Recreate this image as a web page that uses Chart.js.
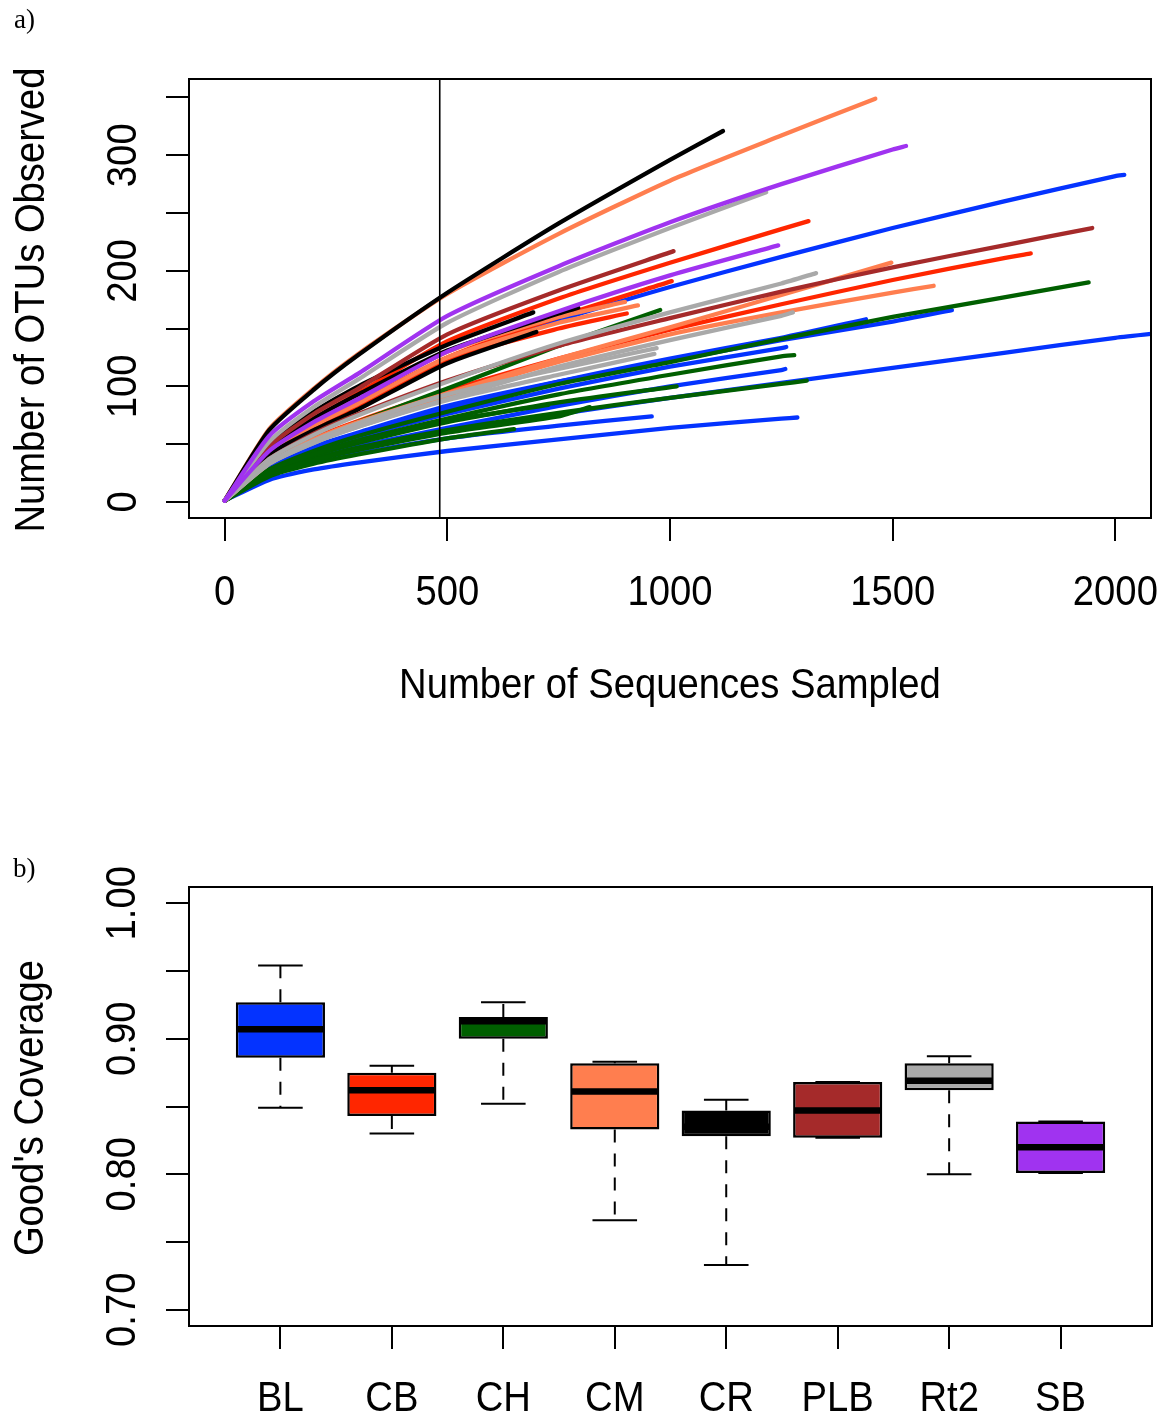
<!DOCTYPE html>
<html>
<head>
    <meta charset="utf-8">
    <title>Rarefaction and Good's coverage</title>
    <script src="https://cdn.jsdelivr.net/npm/chart.js"></script>
    <style>
        body { margin: 0; background: #fff; }
        canvas { position: absolute; left: 0; }
    </style>
</head>
<body>
    <canvas id="rarefactionChart" width="1165" height="760" style="top: 0px"></canvas>
    <canvas id="coverageChart" width="1165" height="658" style="top: 760px"></canvas>
<script>
    const sites = ['BL', 'CB', 'CH', 'CM', 'CR', 'PLB', 'Rt2', 'SB']
    const siteColors = ['#0433ff', '#ff2600', '#005f00', '#ff7e4f', '#000000', '#a52a2a', '#a9a9a9', '#a033f0']

    // a) rarefaction curves: OTUs read at each depth step, last value is at the curve's own depth
    const depthSteps = [0, 100, 200, 300, 500, 750, 1000, 1250, 1500, 1750, 2000]
    const curveSite = [
        'BL', 'BL', 'BL', 'BL', 'BL', 'BL', 'BL', 'BL',
        'CB', 'CB', 'CB', 'CB',
        'CH', 'CH', 'CH', 'CH', 'CH', 'CH', 'CH', 'CH',
        'CM', 'CM', 'CM', 'CM', 'CM',
        'CR', 'CR', 'CR', 'CR',
        'PLB', 'PLB',
        'Rt2', 'Rt2', 'Rt2', 'Rt2', 'Rt2',
        'SB', 'SB'
    ]
    const curveDepth = [
        2020, 1633, 1440, 1261, 1259, 2120, 1286, 959,
        1311, 1004, 903, 1810,
        1940, 1279, 1307, 1015, 978, 727, 650, 820,
        1461, 1497, 1592, 899, 928,
        1119, 693, 700, 794,
        1008, 1948,
        1216, 1328, 1276, 970, 965,
        1530, 1243
    ]
    const curveOtus = [
        [1, 40, 64, 84, 123, 157, 186, 212, 237, 260, 282, 283],
        [1, 31, 48, 60, 83, 104, 122, 140, 156, 166],
        [1, 30, 46, 58, 80, 104, 124, 142, 158],
        [1, 29, 44, 56, 76, 98, 117, 133, 134],
        [1, 25, 38, 48, 64, 83, 100, 114, 115],
        [1, 26, 38, 47, 62, 76, 90, 103, 116, 129, 142, 147],
        [1, 19, 28, 34, 44, 54, 64, 72, 73],
        [1, 23, 34, 42, 55, 66, 74],

        [1, 45, 72, 94, 139, 176, 207, 236, 243],
        [1, 42, 66, 86, 125, 160, 191],
        [1, 41, 64, 83, 123, 150, 163],
        [1, 35, 55, 70, 96, 124, 149, 171, 192, 211, 215],

        [1, 28, 44, 57, 78, 102, 121, 141, 160, 177, 190],
        [1, 27, 41, 53, 72, 93, 110, 126, 127],
        [1, 25, 37, 47, 62, 77, 90, 102, 105],
        [1, 26, 40, 51, 69, 86, 100],
        [1, 33, 53, 69, 98, 135, 166],
        [1, 27, 41, 53, 70, 84],
        [1, 22, 33, 41, 55, 63],
        [1, 24, 36, 45, 60, 74, 82],

        [1, 63, 98, 128, 180, 232, 278, 317, 349],
        [1, 34, 54, 69, 94, 124, 151, 179, 207],
        [1, 33, 52, 66, 92, 121, 145, 164, 181, 187],
        [1, 44, 69, 89, 130, 160, 173],
        [1, 42, 66, 85, 125, 155, 170],

        [1, 62, 97, 127, 181, 241, 296, 321],
        [1, 50, 78, 100, 136, 164],
        [1, 41, 62, 80, 120, 147],
        [1, 45, 72, 93, 131, 163, 168],

        [1, 48, 76, 98, 145, 183, 217],
        [1, 37, 59, 76, 105, 135, 159, 182, 203, 222, 237],

        [1, 52, 82, 106, 155, 199, 237, 268],
        [1, 37, 58, 75, 104, 137, 164, 189, 198],
        [1, 33, 51, 65, 89, 117, 140, 161, 164],
        [1, 34, 53, 68, 93, 115, 133],
        [1, 33, 51, 65, 88, 110, 128],

        [1, 57, 87, 111, 161, 204, 242, 275, 305, 308],
        [1, 44, 69, 89, 130, 165, 196, 222]
    ]
    const cutoffDepth = 483
    const depthTicks = [0, 500, 1000, 1500, 2000]
    const otuTicks = [0, 50, 100, 150, 200, 250, 300, 350]
    const otuTickLabels = ['0', '', '100', '', '200', '', '300', '']

    // b) Good's coverage per site
    const coverageLow = [0.849, 0.830, 0.852, 0.766, 0.733, 0.827, 0.800, 0.801]
    const coverageQ1 = [0.886, 0.843, 0.900, 0.833, 0.828, 0.827, 0.862, 0.801]
    const coverageMedian = [0.907, 0.862, 0.913, 0.861, 0.835, 0.847, 0.869, 0.820]
    const coverageQ3 = [0.927, 0.875, 0.916, 0.882, 0.847, 0.868, 0.882, 0.839]
    const coverageHigh = [0.954, 0.880, 0.927, 0.883, 0.855, 0.868, 0.887, 0.839]
    const coverageTicks = [0.70, 0.75, 0.80, 0.85, 0.90, 0.95, 1.00]
    const coverageTickLabels = ['0.70', '', '0.80', '', '0.90', '', '1.00']

    const labelFont = '42px "Liberation Sans", Arial, Helvetica, sans-serif'
    const panelFont = '27px "Liberation Serif", "Times New Roman", serif'
    const squeeze = 0.91

    function drawText(ctx, text, x, y, rotate, font, doSqueeze) {
        ctx.save()
        ctx.translate(x, y)
        if (rotate) ctx.rotate(-Math.PI / 2)
        if (doSqueeze) ctx.scale(squeeze, 1)
        ctx.font = font
        ctx.fillStyle = '#000'
        ctx.textAlign = rotate || doSqueeze ? 'center' : 'left'
        ctx.textBaseline = 'alphabetic'
        ctx.fillText(text, 0, 0)
        ctx.restore()
    }

    function frame(chart) {
        const { ctx, chartArea } = chart
        ctx.save()
        ctx.strokeStyle = '#000'
        ctx.lineWidth = 2
        ctx.strokeRect(chartArea.left, chartArea.top, chartArea.right - chartArea.left, chartArea.bottom - chartArea.top)
        ctx.restore()
    }

    const axisGrid = { drawOnChartArea: false, drawTicks: true, tickLength: 23, color: '#000', lineWidth: 2, offset: false }

    // ---------- a) rarefaction ----------
    const rarefactionSets = curveOtus.map((otus, i) => {
        const points = otus.slice(0, -1).map((v, j) => ({ x: depthSteps[j], y: v }))
        points.push({ x: curveDepth[i], y: otus[otus.length - 1] })
        return {
            data: points,
            borderColor: siteColors[sites.indexOf(curveSite[i])],
            borderWidth: 4.3,
            borderCapStyle: 'round',
            borderJoinStyle: 'round',
            tension: 0.2,
            pointRadius: 0,
            fill: false,
            order: curveOtus.length - i
        }
    })

    const rarefactionDecor = {
        id: 'rarefactionDecor',
        afterDatasetsDraw(chart) {
            const { ctx, chartArea, scales: { x, y } } = chart
            const cx = x.getPixelForValue(cutoffDepth)
            ctx.save()
            ctx.strokeStyle = '#000'
            ctx.lineWidth = 1.6
            ctx.beginPath()
            ctx.moveTo(cx, chartArea.top)
            ctx.lineTo(cx, chartArea.bottom)
            ctx.stroke()
            ctx.restore()
            frame(chart)
        },
        afterDraw(chart) {
            const { ctx, scales: { x, y } } = chart
            depthTicks.forEach(v => drawText(ctx, String(v), x.getPixelForValue(v), 605, false, labelFont, true))
            otuTicks.forEach((v, i) => {
                if (otuTickLabels[i]) drawText(ctx, otuTickLabels[i], 136, y.getPixelForValue(v), true, labelFont, true)
            })
            drawText(ctx, 'Number of Sequences Sampled', 670, 698, false, labelFont, true)
            drawText(ctx, 'Number of OTUs Observed', 44, 300, true, labelFont, true)
            drawText(ctx, 'a)', 14, 28, false, panelFont, false)
        }
    }

    new Chart(document.getElementById('rarefactionChart').getContext('2d'), {
        type: 'line',
        data: { datasets: rarefactionSets },
        options: {
            responsive: false,
            animation: false,
            devicePixelRatio: 1,
            events: [],
            layout: { padding: { top: 79, right: 14, left: 0, bottom: 0 } },
            plugins: { legend: { display: false }, tooltip: { enabled: false } },
            scales: {
                x: {
                    type: 'linear', min: -80, max: 2080,
                    afterBuildTicks: s => { s.ticks = depthTicks.map(v => ({ value: v })) },
                    afterFit: s => { s.height = 760 - 518 },
                    grid: axisGrid,
                    border: { display: false },
                    ticks: { display: false }
                },
                y: {
                    type: 'linear', min: -14, max: 366,
                    afterBuildTicks: s => { s.ticks = otuTicks.map(v => ({ value: v })) },
                    afterFit: s => { s.width = 189 },
                    grid: axisGrid,
                    border: { display: false },
                    ticks: { display: false }
                }
            }
        },
        plugins: [rarefactionDecor]
    })

    // ---------- b) Good's coverage ----------
    const boxWhiskers = {
        id: 'boxWhiskers',
        afterDatasetsDraw(chart) {
            const { ctx, scales: { x, y } } = chart
            const step = x.getPixelForValue(2) - x.getPixelForValue(1)
            const halfBox = step * 0.4
            const halfCap = halfBox / 2
            ctx.save()
            ctx.strokeStyle = '#000'
            sites.forEach((site, i) => {
                const cx = x.getPixelForValue(i + 1)
                const yLow = y.getPixelForValue(coverageLow[i])
                const yQ1 = y.getPixelForValue(coverageQ1[i])
                const yMed = y.getPixelForValue(coverageMedian[i])
                const yQ3 = y.getPixelForValue(coverageQ3[i])
                const yHigh = y.getPixelForValue(coverageHigh[i])

                ctx.lineWidth = 2
                ctx.setLineDash([13, 11])
                ctx.beginPath()
                ctx.moveTo(cx, yQ3)
                ctx.lineTo(cx, yHigh)
                ctx.moveTo(cx, yQ1)
                ctx.lineTo(cx, yLow)
                ctx.stroke()

                ctx.setLineDash([])
                ctx.beginPath()
                ctx.moveTo(cx - halfCap, yHigh)
                ctx.lineTo(cx + halfCap, yHigh)
                ctx.moveTo(cx - halfCap, yLow)
                ctx.lineTo(cx + halfCap, yLow)
                ctx.stroke()

                ctx.lineWidth = 6.5
                ctx.beginPath()
                ctx.moveTo(cx - halfBox + 1, yMed)
                ctx.lineTo(cx + halfBox - 1, yMed)
                ctx.stroke()
            })
            ctx.restore()
            frame(chart)
        },
        afterDraw(chart) {
            const { ctx, scales: { x, y } } = chart
            sites.forEach((site, i) => drawText(ctx, site, x.getPixelForValue(i + 1), 651, false, labelFont, true))
            coverageTicks.forEach((v, i) => {
                if (coverageTickLabels[i]) drawText(ctx, coverageTickLabels[i], 135, y.getPixelForValue(v), true, labelFont, true)
            })
            drawText(ctx, "Good's Coverage", 43, 348, true, labelFont, true)
            drawText(ctx, 'b)', 13, 117, false, panelFont, false)
        }
    }

    new Chart(document.getElementById('coverageChart').getContext('2d'), {
        type: 'bar',
        data: {
            datasets: [{
                data: sites.map((s, i) => ({ x: i + 1, y: [coverageQ1[i], coverageQ3[i]] })),
                backgroundColor: siteColors,
                borderColor: '#000',
                borderWidth: 2.5,
                borderSkipped: false,
                categoryPercentage: 0.8,
                barPercentage: 1.0
            }]
        },
        options: {
            responsive: false,
            animation: false,
            devicePixelRatio: 1,
            events: [],
            layout: { padding: { top: 127, right: 13, left: 0, bottom: 0 } },
            plugins: { legend: { display: false }, tooltip: { enabled: false } },
            scales: {
                x: {
                    type: 'linear', min: 0.18, max: 8.82, offset: false,
                    afterBuildTicks: s => { s.ticks = sites.map((_, i) => ({ value: i + 1 })) },
                    afterFit: s => { s.height = 658 - 566 },
                    grid: axisGrid,
                    border: { display: false },
                    ticks: { display: false }
                },
                y: {
                    type: 'linear', min: 0.688, max: 1.012,
                    afterBuildTicks: s => { s.ticks = coverageTicks.map(v => ({ value: v })) },
                    afterFit: s => { s.width = 189 },
                    grid: axisGrid,
                    border: { display: false },
                    ticks: { display: false }
                }
            }
        },
        plugins: [boxWhiskers]
    })
</script>
</body>
</html>
